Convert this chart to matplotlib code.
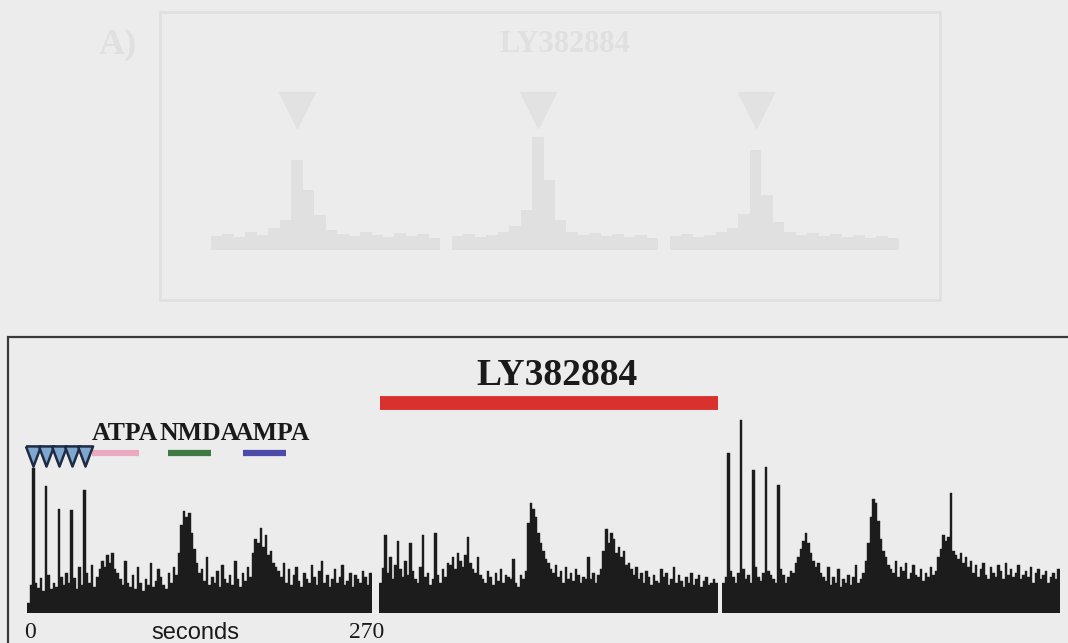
import numpy as np
import matplotlib
matplotlib.use('Agg')
from matplotlib import pyplot as plt
from matplotlib.patches import Rectangle

# spike counts per 2 s bin, three 270 s recording periods
panel1 = [10, 28, 145, 30, 25, 35, 22, 127, 38, 24, 30, 26, 104, 36, 28, 40, 30, 103,
          35, 24, 46, 28, 123, 40, 30, 48, 26, 36,
          44, 52, 46, 58, 50, 60, 44, 40,
          34, 28, 52, 30, 26, 38, 24, 46, 30, 22, 34, 28, 50, 26, 32, 44, 36, 28, 24, 40, 30, 46, 38,
          60, 88, 102, 96, 100, 80, 64, 50,
          40, 44, 32, 56, 28, 36, 30, 42, 26, 48, 34, 30, 38, 28, 52, 34, 26, 40, 32, 46, 36,
          60, 74, 70, 85, 66, 78, 58, 62, 50, 46,
          42, 36, 50, 30, 44, 28, 38, 46, 32, 26, 40, 34, 30, 48, 36, 28, 42, 52, 30, 38, 26,
          34, 44, 30, 36, 48, 28, 32, 40, 26, 38, 34, 30, 42, 36, 28, 40]
panel2 = [30, 45, 78, 40, 56, 34, 48, 72, 44, 36, 52, 38, 70, 42, 34, 30, 46, 78,
          36, 40, 28, 34, 80, 38, 30, 44, 36, 50,
          48, 56, 44, 60, 52, 46, 58, 76,
          50, 44, 40, 56, 38, 34, 30, 42, 36, 28, 40, 32, 44, 30, 38, 36, 34, 54,
          30, 26, 38, 34, 42,
          90, 110, 104, 96, 80, 70, 62, 54,
          50, 44, 40, 48, 36, 42, 30, 46, 34, 40, 32, 44, 38, 30, 36, 34, 56,
          34, 40, 30, 38, 44,
          62, 84, 70, 80, 74, 60, 66, 56, 62, 48,
          50, 44, 38, 46, 34, 40, 30, 42, 36, 28, 38, 32, 30, 44, 36, 40, 28, 34,
          46, 30, 38, 32, 26, 36, 30, 40, 28, 34, 38, 26, 32, 36, 28, 30, 34, 30]
panel3 = [30, 36, 160, 42, 36, 30, 40, 193, 44, 34, 38, 30, 143, 46, 36, 32, 40, 146,
          42, 38, 34, 30, 128, 44, 38, 30, 36, 42,
          40, 50, 56, 64, 72, 80, 70, 60, 52, 46, 50, 40, 36,
          32, 46, 28, 36, 30, 44, 26, 34, 30, 38, 28, 36, 48, 30, 34, 40, 52,
          70, 96, 114, 110, 92, 74, 62, 56, 48,
          44, 40, 52, 36, 46, 42, 50, 34, 40, 48, 38, 36, 44, 32, 40, 36, 46, 38, 42,
          56, 64, 78, 72, 76, 120, 62, 58, 54, 60, 50, 56,
          46, 52, 40, 48, 36, 44, 50, 38, 34, 46, 40, 36, 48, 42, 34, 50, 38, 44, 36,
          40, 48, 34, 38, 42, 36, 46, 30, 40, 44, 34, 38, 42, 30, 36, 40, 34, 44]

stim_times = [5, 15, 25, 35, 45]
drugs = ['ATPA', 'NMDA', 'AMPA']
drug_on = [51, 110, 169]
drug_off = [88, 144, 203]
drug_label_t = [77, 135, 192]
drug_colors = ['#eaa9c0', '#3f7a44', '#4b4caa']
ly_on, ly_off = 1, 270

# faint show-through of the figure on the other side of the page
ghost_counts = [14, 16, 13, 18, 15, 22, 30, 90, 60, 35, 20, 16, 14, 18, 15, 13, 17, 14, 16, 12,
                0, 14, 16, 13, 15, 18, 24, 40, 113, 70, 30, 18, 15, 17, 14, 16, 13, 15, 12, 0,
                14, 16, 13, 15, 18, 22, 36, 100, 55, 28, 18, 15, 17, 14, 16, 13, 15, 12, 14, 12]
ghost_stims = [7.5, 28.5, 47.5]

W, H = 1068, 643
bg = '#ececec'
fig = plt.figure(figsize=(W / 100, H / 100), dpi=100, facecolor=bg)

def px_axes(x0, x1, ybase, height):
    return fig.add_axes([x0 / W, (H - ybase) / H, (x1 - x0) / W, height / H])

serif = 'Liberation Serif'
ghost = '#e0e0e0'

# ghost figure
fig.add_artist(Rectangle((160 / W, 1 - 300 / H), 780 / W, 288 / H, transform=fig.transFigure,
                         fill=False, ec=ghost, lw=2))
fig.text(118 / W, 1 - 45 / H, 'A)', fontsize=26, fontfamily=serif, fontweight='bold',
         color=ghost, ha='center', va='center')
fig.text(565 / W, 1 - 45 / H, 'LY382884', fontsize=22, fontfamily=serif, fontweight='bold',
         color=ghost, ha='center', va='center')
gax = px_axes(211, 899, 250, 200)
gax.bar(np.arange(len(ghost_counts)), ghost_counts, width=1, align='edge', color=ghost, lw=0)
gax.plot(ghost_stims, [140] * 3, ls='none', marker='v', ms=26, color='#e2e2e2')
gax.set_xlim(0, len(ghost_counts))
gax.set_ylim(0, 200)
gax.axis('off')

# frame of the main figure
fig.add_artist(Rectangle((8 / W, -0.1), 1.2, (H - 337) / H + 0.1, transform=fig.transFigure,
                         fill=False, ec='#3a3a3a', lw=1.6))

spans = [(27, 372), (379, 718), (722, 1060)]
axes = []
for (x0, x1), vals in zip(spans, [panel1, panel2, panel3]):
    ax = px_axes(x0, x1, 612.5, 200)
    bw = 270 / len(vals)
    ax.bar(np.arange(len(vals)) * bw, vals, width=bw, align='edge',
           color='#1c1c1c', ec='#1c1c1c', lw=0.3)
    ax.set_xlim(0, 270)
    ax.set_ylim(0, 200)
    ax.axis('off')
    axes.append(ax)

ax1, ax2, ax3 = axes

# stimulus triangles
tri = [(-0.75, 1), (0.75, 1), (0, -1), (-0.75, 1)]
ax1.plot(stim_times, [157] * len(stim_times), ls='none', marker=tri, ms=14.5,
         mfc='#7fa6cf', mec='#1d2b44', mew=1.8, clip_on=False, zorder=5)

for name, t0, t1, tl, c in zip(drugs, drug_on, drug_off, drug_label_t, drug_colors):
    ax1.plot([t0, t1], [159.5, 159.5], color=c, lw=4.5, solid_capstyle='butt', clip_on=False)
    ax1.text(tl, 173, name, fontsize=18.5, fontfamily=serif, fontweight='bold',
             color='#1a1a1a', ha='center', va='baseline', clip_on=False)

ax2.plot([ly_on, ly_off], [209.5, 209.5], color='#d9322e', lw=10, solid_capstyle='butt',
         clip_on=False)
ax2.text(142, 227.5, 'LY382884', fontsize=27, fontfamily=serif, fontweight='bold',
         color='#1a1a1a', ha='center', va='baseline', clip_on=False)

ax1.text(2.5, -20.5, '0', fontsize=17, fontfamily=serif, color='#1a1a1a',
         ha='center', va='center', clip_on=False)
ax1.text(131.5, -20.5, 'seconds', fontsize=17, fontfamily='Liberation Sans', color='#1a1a1a',
         ha='center', va='center', clip_on=False)
ax1.text(266, -20.5, '270', fontsize=17, fontfamily=serif, color='#1a1a1a',
         ha='center', va='center', clip_on=False)

fig.savefig('out.png', dpi=100, facecolor=bg)
